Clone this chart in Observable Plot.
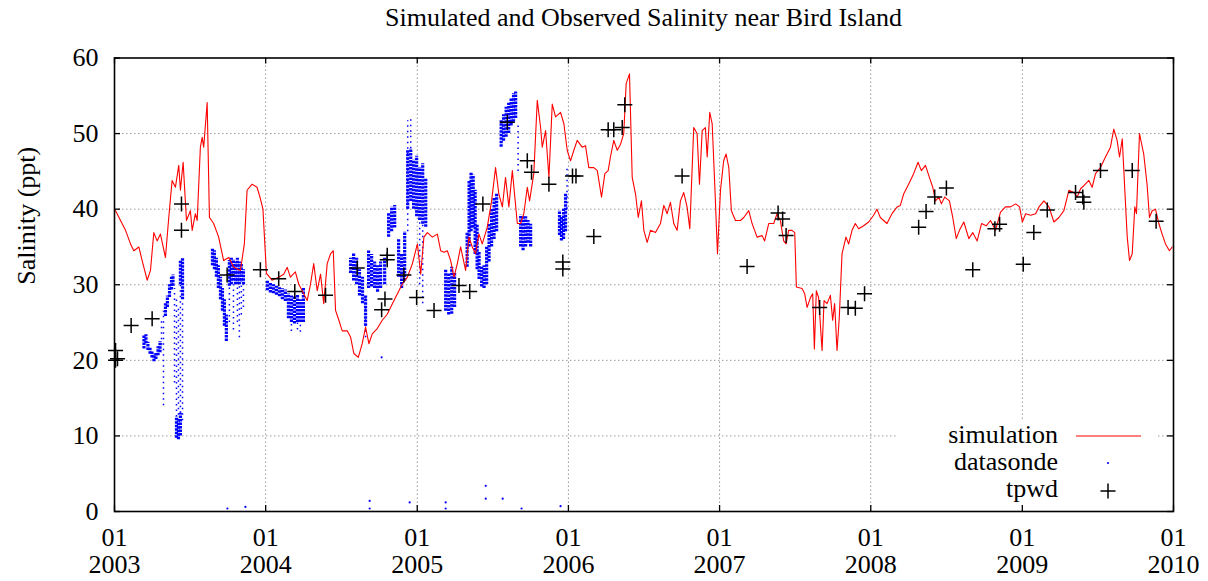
<!DOCTYPE html>
<html><head><meta charset="utf-8">
<script src="https://cdn.jsdelivr.net/npm/d3@7"></script>
<script src="https://cdn.jsdelivr.net/npm/@observablehq/plot@0.6"></script>
<style>
body{margin:0;background:#fff;font-family:"Liberation Serif","Times New Roman",serif;}
#title{height:40px;box-sizing:border-box;padding-top:5px;margin-left:114px;width:1059px;text-align:center;font-size:26px;line-height:26px;color:#000;white-space:nowrap;}
</style></head><body>
<div id="title">Simulated and Observed Salinity near Bird Island</div>
<div id="chart"></div>
<script>
// ---------- data (decimal years, salinity ppt) ----------
const tickYears = [2003,2004,2005,2006,2007,2008,2009,2010];
const yTickValues = [0,10,20,30,40,50,60];
const gridValues = [10,20,30,40,50];

const simYear = [2003.007,2003.040,2003.073,2003.106,2003.128,2003.161,2003.183,2003.216,2003.238,2003.260,2003.282,2003.304,2003.337,2003.359,2003.381,2003.403,2003.425,2003.436,2003.454,2003.476,2003.502,2003.514,2003.535,2003.547,2003.568,2003.580,2003.590,2003.613,2003.628,2003.656,2003.689,2003.722,2003.756,2003.789,2003.833,2003.859,2003.877,2003.910,2003.943,2003.965,2003.982,2004.005,2004.042,2004.086,2004.119,2004.142,2004.163,2004.196,2004.218,2004.251,2004.274,2004.296,2004.317,2004.340,2004.362,2004.383,2004.406,2004.428,2004.446,2004.461,2004.483,2004.505,2004.538,2004.560,2004.582,2004.611,2004.637,2004.659,2004.681,2004.703,2004.736,2004.769,2004.802,2004.836,2004.869,2004.902,2004.935,2004.968,2005.001,2005.023,2005.044,2005.067,2005.100,2005.133,2005.155,2005.177,2005.199,2005.221,2005.243,2005.265,2005.287,2005.320,2005.342,2005.364,2005.386,2005.408,2005.430,2005.463,2005.492,2005.518,2005.540,2005.563,2005.584,2005.606,2005.629,2005.662,2005.684,2005.705,2005.728,2005.743,2005.771,2005.794,2005.816,2005.827,2005.849,2005.871,2005.893,2005.915,2005.948,2005.970,2005.992,2006.014,2006.036,2006.058,2006.091,2006.113,2006.135,2006.168,2006.191,2006.219,2006.241,2006.263,2006.278,2006.300,2006.323,2006.345,2006.366,2006.382,2006.404,2006.422,2006.444,2006.462,2006.483,2006.499,2006.521,2006.543,2006.576,2006.609,2006.631,2006.653,2006.675,2006.697,2006.719,2006.741,2006.763,2006.785,2006.803,2006.829,2006.851,2006.867,2006.885,2006.906,2006.918,2006.935,2006.951,2006.968,2006.986,2007.006,2007.027,2007.043,2007.061,2007.078,2007.105,2007.138,2007.160,2007.193,2007.215,2007.248,2007.281,2007.298,2007.325,2007.358,2007.380,2007.402,2007.424,2007.440,2007.457,2007.479,2007.497,2007.508,2007.546,2007.563,2007.579,2007.601,2007.616,2007.627,2007.640,2007.655,2007.678,2007.691,2007.711,2007.733,2007.748,2007.761,2007.777,2007.792,2007.810,2007.836,2007.854,2007.876,2007.898,2007.920,2007.953,2007.986,2008.019,2008.041,2008.063,2008.107,2008.140,2008.174,2008.195,2008.217,2008.250,2008.283,2008.312,2008.334,2008.361,2008.387,2008.409,2008.427,2008.449,2008.466,2008.488,2008.519,2008.541,2008.564,2008.585,2008.614,2008.647,2008.673,2008.702,2008.731,2008.762,2008.790,2008.823,2008.856,2008.889,2008.922,2008.956,2008.982,2009.000,2009.022,2009.055,2009.088,2009.110,2009.143,2009.176,2009.209,2009.242,2009.275,2009.308,2009.341,2009.363,2009.385,2009.407,2009.440,2009.462,2009.484,2009.517,2009.550,2009.583,2009.605,2009.627,2009.643,2009.661,2009.678,2009.694,2009.709,2009.727,2009.744,2009.755,2009.775,2009.803,2009.825,2009.841,2009.859,2009.881,2009.903,2009.925,2009.947,2009.973,2009.991];
const simSalinity = [39.8,38.5,37.2,35.4,34.5,35.0,33.2,30.6,31.9,36.9,35.8,36.7,33.6,38.9,43.8,42.9,45.8,42.5,46.2,38.5,39.8,37.2,39.4,38.5,48.2,49.5,48.2,54.1,38.9,38.1,36.3,33.2,33.6,32.3,31.9,35.4,42.5,43.3,42.9,41.4,40.0,31.5,30.6,31.0,31.4,32.3,31.0,31.7,30.1,28.8,27.9,30.1,32.8,29.2,31.4,27.5,32.8,34.1,34.5,26.6,25.3,23.9,23.9,23.1,20.9,20.4,22.2,24.4,22.2,23.5,24.2,25.3,26.1,27.5,28.8,30.1,31.0,32.8,35.4,31.4,36.3,36.9,36.3,36.7,34.5,34.3,34.5,33.2,31.0,32.8,35.0,31.9,36.3,35.0,34.1,36.7,35.4,37.6,41.1,45.5,42.0,40.3,44.2,40.3,45.1,38.1,38.1,39.4,42.9,41.1,44.7,54.4,50.8,48.2,50.4,44.2,53.9,52.2,52.8,51.3,47.8,46.4,47.8,49.1,48.2,48.4,45.5,45.5,45.1,41.6,44.7,45.1,46.9,49.1,47.8,48.6,50.0,56.6,57.9,44.2,42.0,38.9,41.1,37.2,35.6,37.2,36.9,38.1,40.5,39.4,40.9,38.1,37.2,41.1,42.2,40.3,37.4,50.8,50.0,43.3,50.4,50.8,46.9,52.8,51.3,43.3,34.1,42.5,46.4,47.3,45.5,39.8,38.5,38.5,38.9,39.8,38.1,36.3,36.5,35.8,38.1,38.1,39.4,38.5,35.8,35.4,37.2,37.2,36.9,29.7,29.5,28.8,27.0,28.3,28.8,21.5,29.2,28.3,21.3,27.9,27.5,28.6,25.3,27.5,21.3,25.7,34.1,36.3,35.4,37.2,38.1,37.4,37.8,38.3,39.2,40.0,38.9,38.1,39.4,40.3,40.5,42.0,43.3,44.7,46.2,45.1,45.8,44.2,42.9,41.1,41.6,40.7,41.6,41.1,38.9,36.1,37.2,38.3,36.1,36.9,35.8,38.1,37.8,38.5,37.2,39.6,40.3,40.3,40.7,40.3,38.3,39.4,39.2,39.4,40.3,41.1,40.3,38.3,38.9,39.8,42.5,42.2,41.6,42.7,43.1,43.8,42.9,44.7,45.5,46.9,48.2,50.6,49.1,46.9,49.3,42.5,36.3,33.2,34.1,40.3,39.4,50.0,47.3,43.3,38.9,39.8,40.0,38.1,36.7,35.4,34.5,35.0];

const tpwdYear = [2003.007,2003.007,2003.020,2003.110,2003.249,2003.443,2003.443,2003.745,2003.965,2004.086,2004.192,2004.395,2004.604,2004.802,2004.802,2004.787,2004.765,2004.912,2004.996,2005.111,2005.276,2005.347,2005.434,2005.596,2005.728,2005.756,2005.871,2005.963,2005.963,2006.027,2006.050,2006.168,2006.263,2006.300,2006.356,2006.373,2006.752,2007.182,2007.387,2007.417,2007.440,2007.662,2007.850,2007.898,2007.959,2008.316,2008.365,2008.422,2008.499,2008.673,2008.819,2008.850,2009.006,2009.076,2009.165,2009.352,2009.400,2009.407,2009.517,2009.727,2009.885];
const tpwdSalinity = [21.3,20.0,20.2,24.6,25.5,40.7,37.2,31.3,32.0,30.8,29.1,28.6,32.2,33.9,33.3,28.1,26.7,31.3,28.3,26.6,29.9,29.1,40.7,51.5,46.4,44.9,43.3,33.0,32.1,44.4,44.4,36.4,50.5,50.5,50.8,53.8,44.4,32.4,39.5,38.7,36.5,27.0,27.0,26.9,28.8,37.6,39.7,41.6,42.8,32.0,37.4,38.0,32.7,36.9,39.9,42.2,41.6,40.9,45.1,45.1,38.4];

// datasonde: densely sampled spans (low/high salinity reached at each date)
const sondeDenseYear = [2003.195,2003.208,2003.221,2003.235,2003.248,2003.261,2003.274,2003.288,2003.301,2003.337,2003.350,2003.364,2003.377,2003.387,2003.410,2003.423,2003.436,2003.436,2003.450,
 2003.648,2003.661,2003.674,2003.687,2003.701,2003.714,2003.727,2003.740,2003.760,2003.773,2003.787,2003.800,2003.813,2003.826,2003.839,2003.853,
 2004.011,2004.031,2004.051,2004.071,2004.091,2004.110,2004.130,2004.150,2004.170,2004.190,2004.210,2004.229,2004.249,
 2004.560,2004.580,2004.600,2004.619,2004.639,2004.659,2004.679,2004.699,2004.719,2004.738,2004.758,2004.785,2004.811,2004.831,2004.851,2004.877,2004.897,2004.917,2004.937,2004.957,2004.976,2004.996,2005.016,2005.036,2005.056,
 2005.188,2005.208,2005.228,2005.247,2005.330,2005.343,2005.356,2005.370,2005.383,2005.396,2005.409,2005.426,2005.442,2005.459,2005.475,2005.492,2005.508,2005.525,
 2005.555,2005.571,2005.588,2005.605,2005.621,2005.637,2005.651,2005.684,2005.700,2005.717,2005.733,2005.750,
 2005.941,2005.954,2005.968,2005.981];
const sondeDenseLow = [21.5,22.2,21.3,20.8,20.3,19.8,20.1,20.6,21.0,25.8,27.0,28.3,29.3,29.8,9.7,9.5,10.0,30.0,28.0,
 32.5,32.0,31.0,29.5,28.0,26.5,24.5,22.5,29.8,30.0,30.5,30.0,30.0,30.0,30.5,30.0,
 29.2,28.9,28.8,28.6,28.4,28.0,27.8,25.5,25.0,24.8,25.0,25.0,25.0,
 31.5,30.5,30.0,28.5,27.5,24.5,29.5,29.7,29.5,29.0,29.5,30.0,36.3,37.0,37.5,31.0,29.5,30.5,40.0,41.0,40.0,39.0,38.5,38.0,37.6,
 26.5,26.0,26.1,27.0,32.3,35.0,37.0,37.5,34.0,32.0,30.7,29.7,29.5,30.0,33.0,35.0,36.0,37.0,
 48.2,49.0,49.5,50.0,51.0,51.5,52.0,35.0,34.5,35.0,35.5,35.0,
 36.5,35.8,36.0,37.0];
const sondeDenseHigh = [23.3,23.4,22.4,21.7,21.2,20.8,21.0,21.8,22.5,27.5,28.5,30.0,31.0,31.3,12.5,12.0,13.0,33.2,33.5,
 34.8,34.5,33.5,32.5,31.0,29.5,28.0,26.0,33.2,33.5,33.3,33.0,33.5,33.0,32.8,32.0,
 30.6,30.3,30.0,29.8,29.6,29.5,29.3,28.8,28.5,28.5,28.6,28.0,29.5,
 33.5,34.1,33.5,32.0,31.0,28.5,34.5,34.0,33.0,32.5,33.0,33.5,39.5,40.3,40.5,36.0,34.0,37.0,47.8,48.0,46.5,47.0,45.5,46.0,44.0,
 32.0,31.5,32.3,31.5,36.8,43.8,44.8,44.5,42.5,38.0,34.4,32.3,32.5,35.0,38.0,40.0,41.5,42.0,
 51.7,52.5,53.5,54.0,54.7,55.3,55.5,39.2,39.0,39.0,38.5,38.0,
 39.8,39.0,40.0,42.0];

// datasonde: sparsely sampled spans
const sondeSparseYear = [2003.311,2003.324,2003.397,2003.410,2003.423,2003.436,2003.450,2003.760,2003.787,2003.813,2003.826,2003.839,2003.853,2004.170,2004.210,2004.229,2004.659,2004.937,2004.957,2005.016,2005.036,2005.667,2005.991];
const sondeSparseLow = [22.0,14.0,17.0,12.5,12.0,13.0,12.0,25.0,24.0,25.0,23.0,26.0,27.0,23.8,24.0,23.7,23.0,37.0,48.0,30.0,27.5,45.0,40.0];
const sondeSparseHigh = [25.5,26.5,29.5,28.0,27.0,30.0,28.0,29.8,30.0,30.0,30.0,30.5,30.0,25.0,25.0,25.0,28.5,51.7,52.0,38.5,38.0,51.0,45.5];

// datasonde: isolated readings
const sondeDotYear = [2003.747,2003.866,2004.686,2004.686,2004.765,2004.950,2005.188,2005.188,2005.453,2005.453,2005.565,2005.690,2005.948];
const sondeDotSalinity = [0.4,0.6,1.4,0.4,20.4,1.2,1.2,0.4,3.4,1.7,1.7,0.4,0.7];

// ---------- build ----------
function toDate(y){const yr=Math.floor(y);const s=Date.UTC(yr,0,1),e=Date.UTC(yr+1,0,1);return new Date(s+(y-yr)*(e-s));}
const sim = simYear.map((y,i)=>({date:toDate(y),value:simSalinity[i]}));
const tpwd = tpwdYear.map((y,i)=>({date:toDate(y),value:tpwdSalinity[i]}));
const sondeDense = sondeDenseYear.map((y,i)=>({date:toDate(y),lo:sondeDenseLow[i],hi:sondeDenseHigh[i]}));
const sondeSparse = sondeSparseYear.map((y,i)=>({date:toDate(y),lo:sondeSparseLow[i],hi:sondeSparseHigh[i]}));
const sondeDots = sondeDotYear.map((y,i)=>({date:toDate(y),value:sondeDotSalinity[i]}));
const yearTicks = tickYears.map(y=>new Date(Date.UTC(y,0,1)));

const W=1208,H=541,mL=114,mR=35,mT=17.5,mB=70;
const plotW=W-mL-mR, plotH=H-mT-mB, TL=6;
const cross={draw(ctx,size){const r=Math.sqrt(size/Math.PI);ctx.moveTo(-r,0);ctx.lineTo(r,0);ctx.moveTo(0,-r);ctx.lineTo(0,r);}};
const FONT='"Liberation Serif","Times New Roman",serif';
const gridStyle={stroke:"#9a9a9a",strokeOpacity:1,strokeWidth:1,strokeDasharray:"1.5,2.5"};

const plot = Plot.plot({
  width:W,height:H,marginLeft:mL,marginRight:mR,marginTop:mT,marginBottom:mB,
  style:{fontFamily:FONT,fontSize:"26px",background:"white",color:"black"},
  x:{type:"utc",domain:[yearTicks[0],yearTicks[yearTicks.length-1]]},
  y:{domain:[0,60]},
  marks:[
    Plot.gridY(gridValues,gridStyle),
    Plot.gridX(yearTicks.slice(1,-1),gridStyle),
    Plot.ruleX(sondeSparse,{x:"date",y1:"lo",y2:"hi",stroke:"blue",strokeWidth:1.5,strokeDasharray:"1.5,4"}),
    Plot.ruleX(sondeDense,{x:"date",y1:"lo",y2:"hi",stroke:"blue",strokeWidth:3.2,strokeDasharray:"2.5,1"}),
    Plot.dot(sondeDots,{x:"date",y:"value",r:1.1,fill:"blue",stroke:"none"}),
    Plot.line(sim,{x:"date",y:"value",stroke:"#ff0000",strokeWidth:1.1}),
    Plot.dot(tpwd,{x:"date",y:"value",symbol:cross,r:7.5,stroke:"black",strokeWidth:1.5,fill:"none"}),
    Plot.ruleY(yTickValues,{y:d=>d,insetRight:plotW-TL,stroke:"black",strokeWidth:1.3}),
    Plot.ruleY(yTickValues,{y:d=>d,insetLeft:plotW-TL,stroke:"black",strokeWidth:1.3}),
    Plot.ruleX(yearTicks,{x:d=>d,insetBottom:plotH-TL,stroke:"black",strokeWidth:1.3}),
    Plot.ruleX(yearTicks,{x:d=>d,insetTop:plotH-TL,stroke:"black",strokeWidth:1.3}),
    Plot.frame({stroke:"black",strokeWidth:1.6}),
    Plot.axisY(yTickValues,{tickSize:0,tickPadding:16,fontSize:26,label:null}),
    Plot.axisX(yearTicks,{tickSize:0,tickPadding:15,fontSize:26,lineHeight:1.04,label:null,tickFormat:d=>"01\n"+d.getUTCFullYear()}),
    Plot.text(["Salinity (ppt)"],{frameAnchor:"left",rotate:-90,dx:-88,fontSize:26,fill:"black"})
  ]
});
document.getElementById("chart").appendChild(plot);

// legend (gnuplot-style key, bottom right inside the frame)
const svg=d3.select(plot);
const g=svg.append("g").attr("class","key").style("font-family",FONT).style("font-size","26px");
g.append("rect").attr("x",898).attr("y",380).attr("width",259).attr("height",84).attr("fill","white");
const keys=[["simulation",403],["datasonde",430],["tpwd",457]];
keys.forEach(([t,yb])=>g.append("text").attr("x",1058).attr("y",yb).attr("text-anchor","end").attr("fill","black").text(t));
g.append("line").attr("x1",1076).attr("x2",1141).attr("y1",396).attr("y2",396).attr("stroke","#ff0000").attr("stroke-width",1.1);
g.append("circle").attr("cx",1108).attr("cy",423).attr("r",1.1).attr("fill","blue");
g.append("path").attr("d","M1100.5,451H1115.5M1108,443.5V458.5").attr("stroke","black").attr("stroke-width",1.5);
</script>
</body></html>
